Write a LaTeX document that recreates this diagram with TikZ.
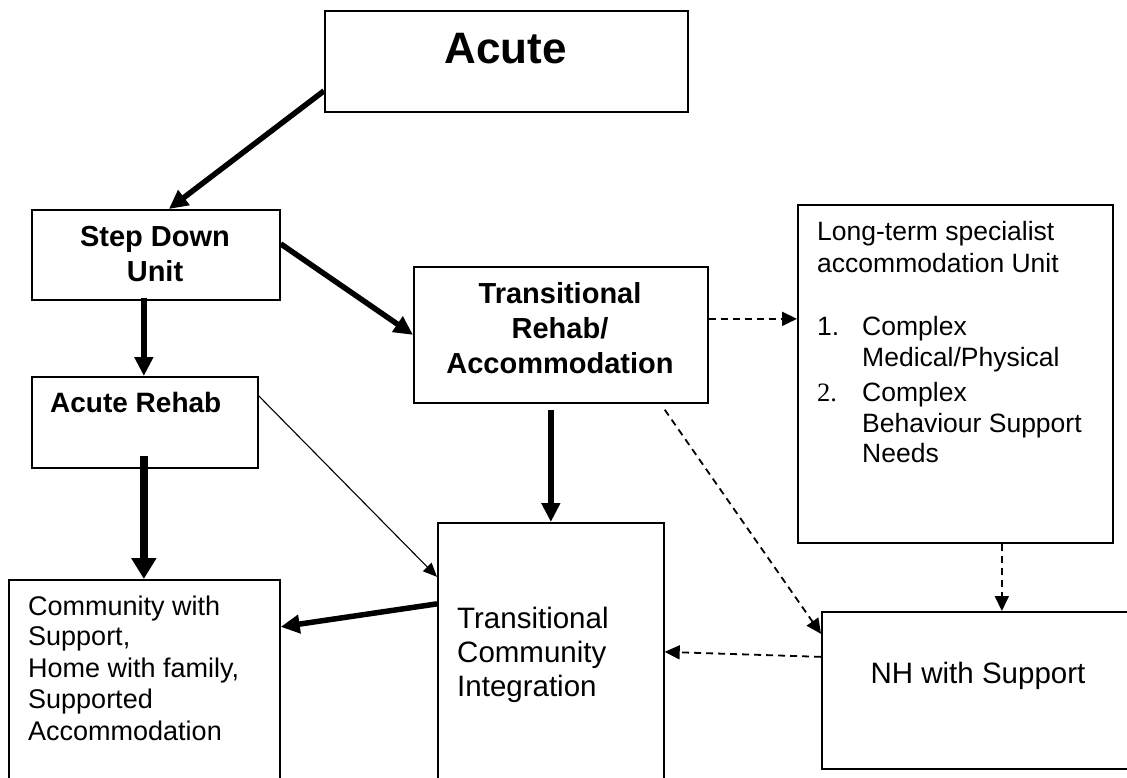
\documentclass[tikz,border=0pt]{standalone}
\usepackage{fontspec}
\setmainfont{Liberation Sans}
\newfontfamily\numserif{Liberation Serif}
\usetikzlibrary{arrows.meta}
\begin{document}
\begin{tikzpicture}[x=1pt,y=-1pt,
  box/.style={draw, line width=1.7pt, inner sep=0pt, anchor=north west},
  lbl/.style={inner sep=0pt, anchor=base},
  lblw/.style={inner sep=0pt, anchor=base west},
  bigb/.style={font=\fontsize{44}{50}\selectfont\bfseries},
  medb/.style={font=\fontsize{29}{35}\selectfont\bfseries},
  arb/.style={font=\fontsize{28}{34}\selectfont\bfseries},
  ltf/.style={font=\fontsize{26.5}{31}\selectfont},
  cmf/.style={font=\fontsize{27}{31}\selectfont},
  tcf/.style={font=\fontsize{29.5}{35}\selectfont},
  heavyarrow/.style={line width=5.5pt, -{Triangle[length=19pt,width=18pt]}},
  heaviestarrow/.style={line width=8pt, -{Triangle[length=21pt,width=24pt]}},
  thinarrow/.style={line width=1.1pt, -{Triangle[length=14pt,width=12pt]}},
  dasharrow/.style={line width=1.8pt, dash pattern=on 7pt off 5pt, -{Triangle[length=15pt,width=14pt]}}
]
\useasboundingbox (0,0) rectangle (1127,777);
\fill[white] (0,0) rectangle (1127,777);
\clip (0,0) rectangle (1127,777);

% boxes
\node[box, minimum width=363pt, minimum height=101pt] (acute) at (324,10) {};
\node[box, minimum width=248pt, minimum height=90pt] (step) at (31,209) {};
\node[box, minimum width=226pt, minimum height=91pt] (arehab) at (31,376) {};
\node[box, minimum width=294pt, minimum height=136pt] (tr) at (413,266) {};
\node[box, minimum width=315pt, minimum height=338pt] (lt) at (797,204) {};
\node[box, minimum width=271pt, minimum height=230pt] (comm) at (8,579) {};
\node[box, minimum width=226pt, minimum height=280pt] (tc) at (437,522) {};
\node[box, minimum width=314pt, minimum height=157pt] (nh) at (821,611) {};

% texts
\node[lbl, bigb] (tacute) at (505.5,63) {Acute};
\node[lbl, medb] (tstep1) at (155,246) {Step Down};
\node[lbl, medb] (tstep2) at (155,281) {Unit};
\node[lblw, arb] (tarehab) at (50,412) {Acute Rehab};
\node[lbl, medb] (ttr1) at (560,303) {Transitional};
\node[lbl, medb] (ttr2) at (560,338) {Rehab/};
\node[lbl, medb] (ttr3) at (560,373) {Accommodation};

\node[lblw, ltf] (tlt1) at (817,240) {Long-term specialist};
\node[lblw, ltf] (tlt2) at (817,272) {accommodation Unit};
\node[lblw, ltf] (tlt3n) at (817,335) {1.};
\node[lblw, ltf] (tlt3) at (862,335) {Complex};
\node[lblw, ltf] (tlt4) at (862,366) {Medical/Physical};
\node[lblw, ltf] (tlt5n) at (817,401) {\numserif 2.};
\node[lblw, ltf] (tlt5) at (862,401) {Complex};
\node[lblw, ltf] (tlt6) at (862,432) {Behaviour Support};
\node[lblw, ltf] (tlt7) at (862,462) {Needs};

\node[lblw, cmf] (tc1) at (28,615) {Community with};
\node[lblw, cmf] (tc2) at (28,645) {Support,};
\node[lblw, cmf] (tc3) at (28,677) {Home with family,};
\node[lblw, cmf] (tc4) at (28,708) {Supported};
\node[lblw, cmf] (tc5) at (28,740) {Accommodation};

\node[lblw, tcf] (ttc1) at (457,628) {Transitional};
\node[lblw, tcf] (ttc2) at (457,662) {Community};
\node[lblw, tcf] (ttc3) at (457,696) {Integration};

\node[lbl, tcf] (tnh) at (978,683) {NH with Support};

% connectors
\draw[heavyarrow] ([yshift=-29.5pt]acute.west) -- ([xshift=13pt]step.north);
\draw[heavyarrow] ([xshift=-12pt,yshift=3pt]step.south) -- ([xshift=-1pt]arehab.north);
\draw[heavyarrow] ([yshift=11pt]step.east) -- (tr.west);
\draw[dasharrow] ([yshift=16pt]tr.east) -- ([yshift=55pt]lt.west);
\draw[heavyarrow] ([xshift=-10pt,yshift=-6pt]tr.south) -- (tc.north);
\draw[dasharrow] ([xshift=-44pt,yshift=-6pt]tr.south east) -- ([yshift=56.5pt]nh.west);
\draw[dasharrow] ([xshift=46.5pt]lt.south) -- ([xshift=23pt]nh.north);
\draw[dasharrow] ([yshift=33.5pt]nh.west) -- ([yshift=11pt]tc.east);
\draw[thinarrow] ([yshift=26.5pt]arehab.east) -- ([yshift=86pt]tc.west);
\draw[heaviestarrow] ([xshift=-1pt,yshift=13pt]arehab.south) -- ([xshift=-0.5pt]comm.north);
\draw[heavyarrow] ([yshift=59pt]tc.west) -- ([yshift=68pt]comm.east);
\end{tikzpicture}
\end{document}
